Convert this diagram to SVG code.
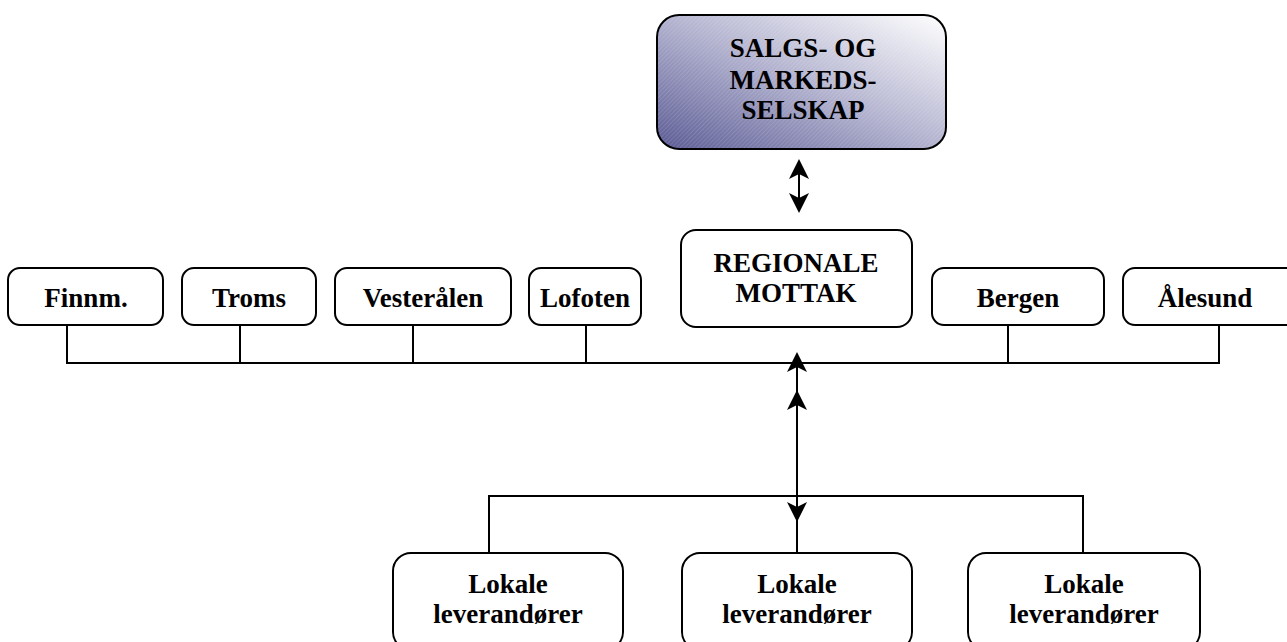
<svg xmlns="http://www.w3.org/2000/svg" width="1287" height="642" viewBox="0 0 1287 642">
<style>
.box{fill:#fff;stroke:#000;stroke-width:2}
.t{font-family:"Liberation Serif","Times New Roman",serif;font-weight:bold;font-size:27px;text-anchor:middle;fill:#000}
.ln{stroke:#000;stroke-width:2;fill:none}
</style>
<defs>
<linearGradient id="g" x1="0" y1="1" x2="1" y2="0">
<stop offset="0" stop-color="#5a5a94"/>
<stop offset="0.5" stop-color="#b2b2cf"/>
<stop offset="1" stop-color="#ffffff"/>
</linearGradient>
<pattern id="hatch" width="3" height="3" patternUnits="userSpaceOnUse" patternTransform="rotate(45)">
<rect width="1" height="3" fill="#ffffff" fill-opacity="0.12"/>
</pattern>
<path id="head" d="M0,0 L10,20 L0,15 L-10,20 Z" fill="#000"/>
</defs>

<g id="connectors">
<line class="ln" x1="799" y1="162" x2="799" y2="210"/>
<use href="#head" transform="translate(799,159)"/>
<use href="#head" transform="translate(799,213) rotate(180)"/>
<polyline class="ln" points="67,325 67,363 1219,363 1219,325"/>
<line class="ln" x1="240" y1="325" x2="240" y2="363"/>
<line class="ln" x1="413" y1="325" x2="413" y2="363"/>
<line class="ln" x1="586" y1="325" x2="586" y2="363"/>
<line class="ln" x1="1008" y1="325" x2="1008" y2="363"/>
<line class="ln" x1="797" y1="356" x2="797" y2="553"/>
<use href="#head" transform="translate(797,352)"/>
<use href="#head" transform="translate(797,390)"/>
<use href="#head" transform="translate(797,522) rotate(180)"/>
<polyline class="ln" points="489,553 489,496 1083,496 1083,553"/>
</g>

<g id="salg">
<rect x="657" y="15" width="289" height="134" rx="22" fill="url(#g)" stroke="#000" stroke-width="2"/>
<rect x="658" y="16" width="287" height="132" rx="21" fill="url(#hatch)"/>
<text class="t" x="803" y="57">SALGS- OG</text>
<text class="t" x="803" y="89">MARKEDS-</text>
<text class="t" x="803" y="119">SELSKAP</text>
</g>

<g id="regionale">
<rect class="box" x="681" y="230" width="231" height="97" rx="15"/>
<text class="t" x="796" y="272">REGIONALE</text>
<text class="t" x="796" y="302">MOTTAK</text>
</g>

<g id="finnm"><rect class="box" x="8" y="268" width="155" height="57" rx="12"/><text class="t" x="86" y="307">Finnm.</text></g>
<g id="troms"><rect class="box" x="182" y="268" width="134" height="57" rx="12"/><text class="t" x="249" y="307">Troms</text></g>
<g id="vesteralen"><rect class="box" x="335" y="268" width="176" height="57" rx="12"/><text class="t" x="423" y="307">Vesterålen</text></g>
<g id="lofoten"><rect class="box" x="529" y="268" width="112" height="57" rx="12"/><text class="t" x="585" y="307">Lofoten</text></g>
<g id="bergen"><rect class="box" x="932" y="268" width="172" height="57" rx="12"/><text class="t" x="1018" y="307">Bergen</text></g>
<g id="alesund"><rect class="box" x="1123" y="268" width="180" height="57" rx="12"/><text class="t" x="1205" y="307">Ålesund</text></g>

<g id="lokale1"><rect class="box" x="393" y="553" width="230" height="97" rx="18"/><text class="t" x="508" y="593">Lokale</text><text class="t" x="508" y="623">leverandører</text></g>
<g id="lokale2"><rect class="box" x="682" y="553" width="230" height="97" rx="18"/><text class="t" x="797" y="593">Lokale</text><text class="t" x="797" y="623">leverandører</text></g>
<g id="lokale3"><rect class="box" x="968" y="553" width="232" height="97" rx="18"/><text class="t" x="1084" y="593">Lokale</text><text class="t" x="1084" y="623">leverandører</text></g>
</svg>
